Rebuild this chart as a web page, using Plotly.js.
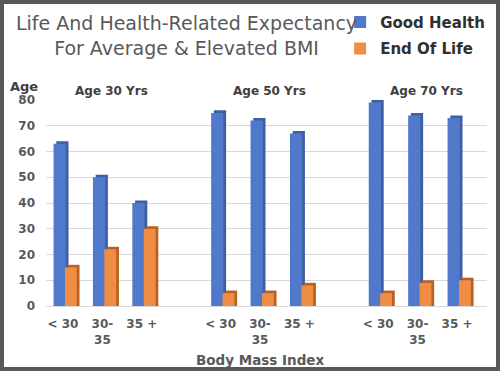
<!DOCTYPE html>
<html>
<head>
<meta charset="utf-8">
<script src="https://cdn.plot.ly/plotly-3.0.1.min.js"></script>
<style>
  html, body { margin: 0; padding: 0; background: #ffffff; }
  #frame { width: 500px; height: 371px; box-sizing: border-box; border: 4px solid #585858; background: #ffffff; }
  #chart { width: 492px; height: 363px; }
</style>
</head>
<body>
<div id="frame"><div id="chart"></div></div>
<script>
// ---- data ----
const groupLabels = ["Age 30 Yrs", "Age 50 Yrs", "Age 70 Yrs"];
const bmiLabels = ["< 30", "30-<br>35", "35 +"];
const goodHealth = [63, 50, 40, 75, 72, 67, 79, 74, 73];
const endOfLife  = [15, 22, 30, 5, 5, 8, 5, 9, 10];
const yTicks = [0, 10, 20, 30, 40, 50, 60, 70, 80];

// ---- category positions (3 groups with a blank slot between) ----
const xPos = [], xTickText = [];
groupLabels.forEach((g, gi) => {
  bmiLabels.forEach((b, bi) => { xPos.push(gi * 4 + bi); xTickText.push(b); });
});

const DEPTH = 1.0; // pseudo-3D depth, in axis units
const textFont = { family: "DejaVu Sans, Verdana, sans-serif", color: "#595959", size: 12, weight: "bold" };

function bar(name, y, color, offset, width, showlegend, group) {
  return {
    type: "bar", name: name, x: xPos, y: y,
    offset: offset, width: width,
    marker: { color: color, line: { width: 0 } },
    showlegend: showlegend, legendgroup: group,
    hoverinfo: "skip"
  };
}

const traces = [
  bar("Good Health side", goodHealth.map(v => v + DEPTH), "#3d5fa3", -0.17, 0.31, false, "gh"),
  bar("Good Health", goodHealth, "#5079cc", -0.24, 0.31, true, "gh"),
  bar("End Of Life side", endOfLife.map(v => v + DEPTH), "#b9621f", 0.12, 0.30, false, "eol"),
  bar("End Of Life", endOfLife, "#f08d45", 0.05, 0.30, true, "eol")
];

const annotations = groupLabels.map((g, gi) => ({
  x: gi * 4 + 1, xref: "x", xshift: 9,
  y: 1, yref: "paper", yanchor: "bottom", yshift: 0,
  text: g, showarrow: false,
  font: { family: textFont.family, size: 12, weight: "bold", color: "#404040" }
}));
annotations.push({
  x: 0, xref: "paper", xanchor: "center", xshift: -22,
  y: 1, yref: "paper", yanchor: "middle", yshift: 14,
  text: "Age", showarrow: false,
  font: { family: textFont.family, size: 13, weight: "bold", color: "#404040" }
});
annotations.push({
  x: 0.5, xref: "paper", xanchor: "center", xshift: -7,
  y: 0, yref: "paper", yanchor: "top", yshift: -44,
  text: "Body Mass Index", showarrow: false,
  font: { family: textFont.family, size: 13.5, weight: "bold", color: "#595959" }
});

const layout = {
  width: 492, height: 363,
  margin: { l: 42, r: 9, t: 96, b: 61, autoexpand: false },
  paper_bgcolor: "#ffffff", plot_bgcolor: "#ffffff",
  barmode: "overlay",
  title: {
    text: "Life And Health-Related Expectancy<br>For Average & Elevated BMI",
    font: { family: "DejaVu Sans, Verdana, sans-serif", size: 19, color: "#595959" },
    x: 0.371, xref: "container", xanchor: "center",
    y: 0.928, yref: "container", yanchor: "top"
  },
  xaxis: {
    range: [-0.431, 10.761],
    tickmode: "array", tickvals: xPos, ticktext: xTickText,
    ticks: "", showgrid: false, zeroline: false, showline: false,
    ticklabelstandoff: 9,
    tickfont: textFont
  },
  yaxis: {
    range: [0, 80],
    tickmode: "array", tickvals: yTicks,
    ticks: "", showgrid: true, gridcolor: "#d9d9d9", gridwidth: 1,
    zeroline: true, zerolinecolor: "#d9d9d9", zerolinewidth: 1,
    showline: false,
    ticklabelstandoff: 10,
    tickfont: textFont
  },
  legend: {
    x: 0.667, xanchor: "left", xref: "paper",
    y: 0.995, yref: "container", yanchor: "top",
    traceorder: "grouped", tracegroupgap: 4,
    font: { family: "DejaVu Sans, Verdana, sans-serif", size: 15, weight: "bold", color: "#303030" },
    bgcolor: "rgba(0,0,0,0)"
  },
  annotations: annotations,
  showlegend: true
};

Plotly.newPlot("chart", traces, layout, { displayModeBar: false, staticPlot: true });
</script>
</body>
</html>
